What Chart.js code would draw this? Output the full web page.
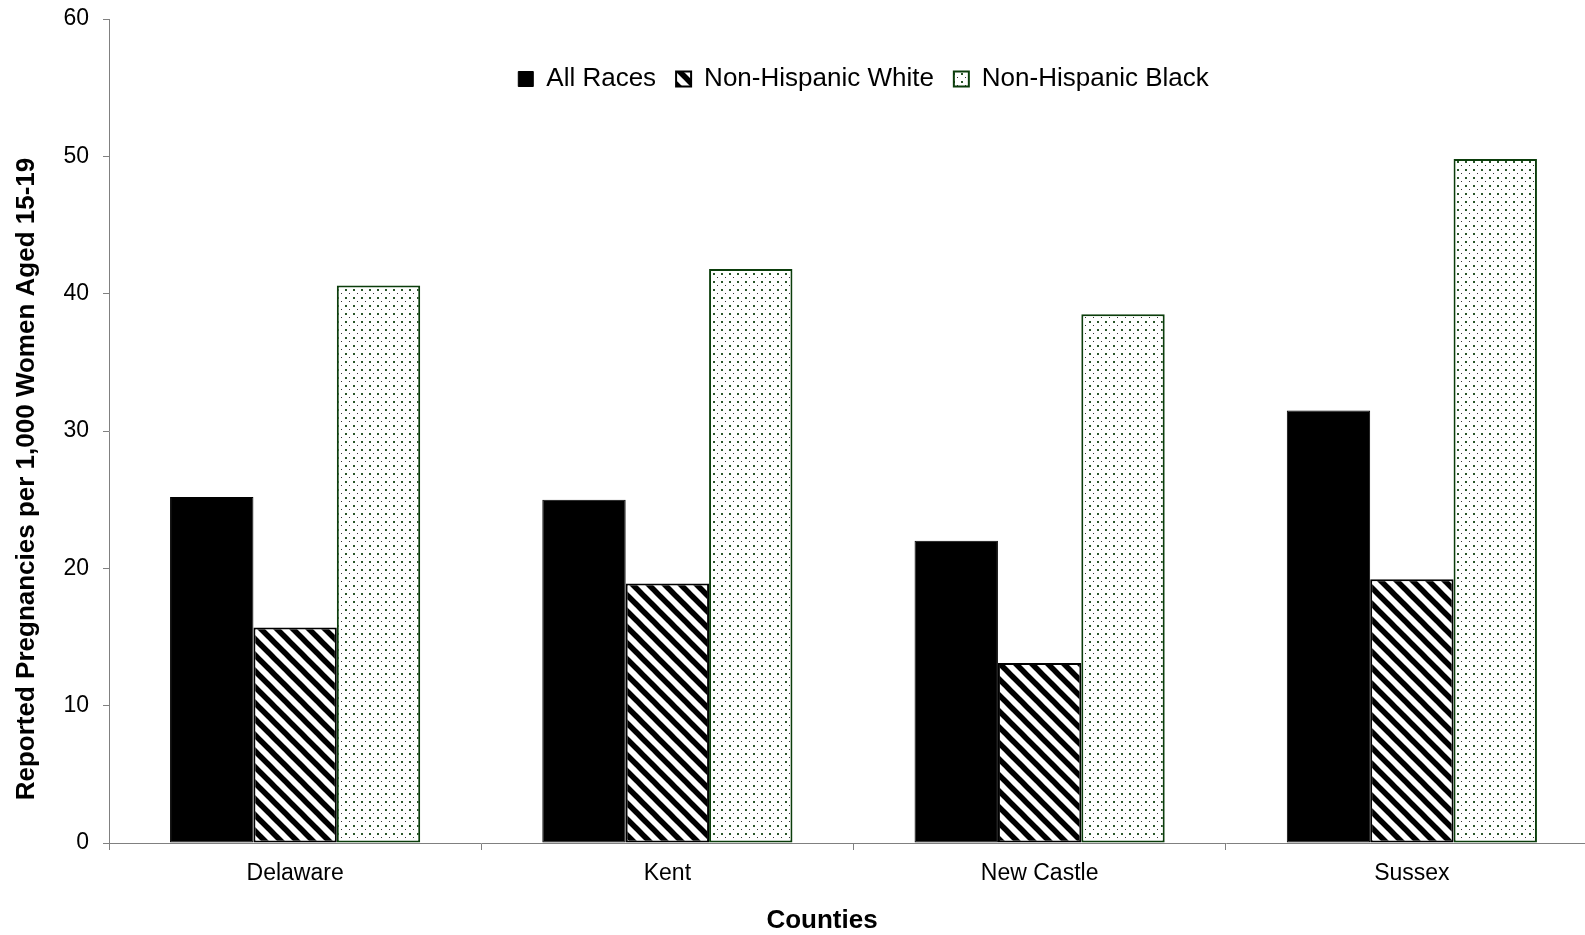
<!DOCTYPE html>
<html>
<head>
<meta charset="utf-8">
<script src="https://cdn.jsdelivr.net/npm/chart.js@4.4.1/dist/chart.umd.min.js"></script>
<style>
  body { margin: 0; background: #fff; overflow: hidden; }
  #wrap { width: 1601px; height: 935px; }
</style>
</head>
<body>
<div id="wrap"><canvas id="grafico" width="1601" height="935"></canvas></div>
<script>
// dados
var counties = ['Delaware', 'Kent', 'New Castle', 'Sussex'];
var allRaces = [25.2, 25.0, 22.0, 31.5];
var nonHispWhite = [15.7, 18.9, 13.1, 19.2];
var nonHispBlack = [40.6, 41.8, 38.5, 49.8];
var yTicks = [0, 10, 20, 30, 40, 50, 60];

var fonte = '"Liberation Sans", Arial, sans-serif';

// padrão listrado (diagonal)
function padraoListras() {
    var s = 16;
    var c = document.createElement('canvas');
    c.width = s; c.height = s;
    var g = c.getContext('2d');
    g.fillStyle = '#fff';
    g.fillRect(0, 0, s, s);
    g.strokeStyle = '#000';
    g.lineWidth = 5.5;
    for (var k = -1; k <= 1; k++) {
        g.beginPath();
        g.moveTo(-2, -2 + k * s);
        g.lineTo(s + 2, s + 2 + k * s);
        g.stroke();
    }
    return g.createPattern(c, 'repeat');
}

// padrão pontilhado
function padraoPontos() {
    var c = document.createElement('canvas');
    c.width = 8; c.height = 8;
    var g = c.getContext('2d');
    g.fillStyle = '#fff';
    g.fillRect(0, 0, 8, 8);
    g.fillStyle = '#2a552a';
    g.fillRect(1, 1, 2, 2);
    g.fillStyle = '#333';
    g.fillRect(5, 5, 1, 1);
    return g.createPattern(c, 'repeat');
}

// legenda dentro da área do gráfico + títulos dos eixos
var ajustes = {
    id: 'ajustes',
    beforeLayout: function (chart) {
        // legenda em linha (horizontal) mesmo dentro da área
        chart.legend.isHorizontal = function () { return true; };
    },
    afterLayout: function (chart) {
        var area = chart.chartArea;
        chart.legend.left = area.left + 10;
        chart.legend.right = area.right + 10;
        chart.legend.top = area.top + 27;
        chart.legend.bottom = chart.legend.top + chart.legend.height;
    },
    afterDraw: function (chart) {
        var ctx = chart.ctx;
        ctx.save();
        ctx.fillStyle = '#000';
        ctx.font = 'bold 26px ' + fonte;
        ctx.textAlign = 'center';
        ctx.textBaseline = 'middle';
        ctx.fillText('Counties', 822, 921);
        ctx.translate(27, 479);
        ctx.rotate(-Math.PI / 2);
        ctx.fillText('Reported Pregnancies per 1,000 Women Aged 15-19', 0, 0);
        ctx.restore();
    }
};

var ctx = document.getElementById('grafico').getContext('2d');
new Chart(ctx, {
    type: 'bar',
    data: {
        labels: counties,
        datasets: [{
            label: 'All Races',
            data: allRaces,
            backgroundColor: '#000',
            borderColor: '#000',
            borderWidth: 1
        }, {
            label: 'Non-Hispanic White',
            data: nonHispWhite,
            backgroundColor: padraoListras(),
            borderColor: '#000',
            borderWidth: 2
        }, {
            label: 'Non-Hispanic Black',
            data: nonHispBlack,
            backgroundColor: padraoPontos(),
            borderColor: '#0b3d0b',
            borderWidth: 2
        }]
    },
    options: {
        responsive: false,
        animation: false,
        layout: { padding: { top: 19, right: 3, left: 0, bottom: 0 } },
        datasets: {
            bar: {
                categoryPercentage: 0.672,
                barPercentage: 1,
                borderSkipped: false
            }
        },
        scales: {
            x: {
                afterFit: function (scale) {
                    scale.height = 92;
                    scale.paddingLeft = 0;
                    scale.paddingRight = 0;
                },
                grid: { drawOnChartArea: false, tickLength: 7, color: '#808080' },
                border: { color: '#808080', width: 1 },
                ticks: { color: '#000', font: { family: fonte, size: 23 }, padding: 10 }
            },
            y: {
                min: 0,
                max: 60,
                afterFit: function (scale) {
                    scale.width = 109;
                    scale.paddingTop = 0;
                    scale.paddingBottom = 0;
                },
                afterBuildTicks: function (scale) {
                    scale.ticks = yTicks.map(function (v) { return { value: v }; });
                },
                grid: { drawOnChartArea: false, tickLength: 6, color: '#808080' },
                border: { color: '#808080', width: 1 },
                ticks: { color: '#000', font: { family: fonte, size: 23 }, padding: 14 }
            }
        },
        plugins: {
            legend: {
                position: 'chartArea',
                align: 'center',
                labels: {
                    color: '#000',
                    font: { family: fonte, size: 26 },
                    boxWidth: 15,
                    boxHeight: 15,
                    padding: 20
                }
            },
            tooltip: { enabled: false }
        }
    },
    plugins: [ajustes]
});
</script>
</body>
</html>
